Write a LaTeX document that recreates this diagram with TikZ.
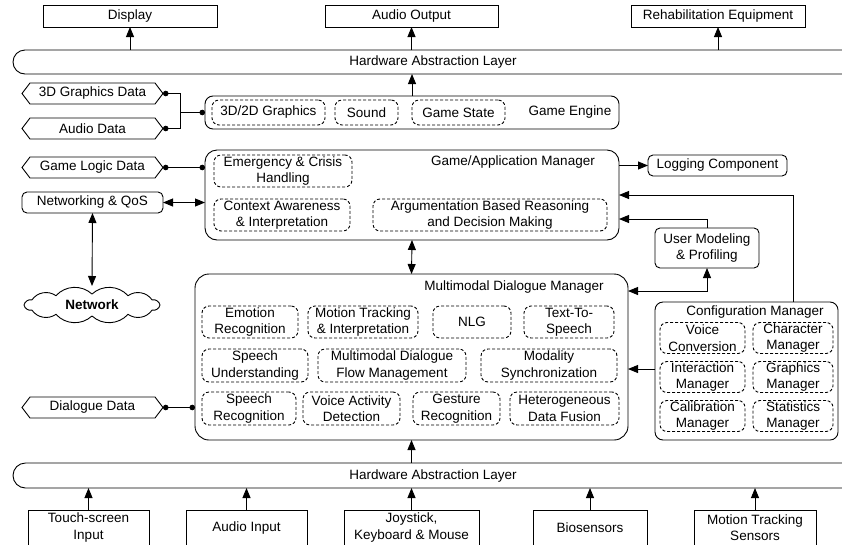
\documentclass[tikz,border=0pt]{standalone}
\usepackage{fontspec}
\setmainfont{Liberation Sans}
\usetikzlibrary{arrows.meta}
\begin{document}
\begin{tikzpicture}[x=1pt,y=-1pt, font=\fontsize{13.5}{16.5}\selectfont,
 every node/.style={inner sep=0pt, outer sep=0pt, align=center},
 ln/.style={line width=0.9pt, draw=black},
 plainbox/.style={ln, rectangle},
 rbox/.style={ln, rounded corners=5pt},
 cont/.style={ln, rounded corners=#1},
 dbox/.style={ln, dash pattern=on 3pt off 2pt, rounded corners=7pt},
 sz/.style 2 args={minimum width=#1pt, minimum height=#2pt},
 arr/.style={ln, -{Triangle[length=10pt,width=8pt]}},
 darr/.style={ln, {Triangle[length=10pt,width=8pt]}-{Triangle[length=10pt,width=8pt]}},
 dots/.style={ln, {Circle[length=5.5pt]}-{Circle[length=5.5pt]}},
 hexline/.style={ln},
]
\useasboundingbox (0,0) rectangle (842,544);
\clip (0,0) rectangle (842,544);

% top output devices
\node[plainbox, sz={174}{22}] (disp) at (130,16) {Display};
\node[plainbox, sz={173}{22}] (aout) at (411.5,16) {Audio Output};
\node[plainbox, sz={174}{22}] (rehab) at (718,16) {Rehabilitation Equipment};

% top HAL
\coordinate (h1t) at (0,50);
\coordinate (h1b) at (0,74);
\draw[ln, rounded corners=12pt] (860,50) -- (13,50) -- (13,74) -- (860,74);
\node (hal1) at (433,62) {Hardware Abstraction Layer};

% game engine
\node[cont=8pt, sz={414}{33}] (ge) at (412,112.5) {};
\node (get) at (570,112.5) {Game Engine};
\node[dbox, sz={113}{25}] (g1) at (268.5,112.5) {3D/2D Graphics};
\node[dbox, sz={63}{25}] (g2) at (366.5,112.5) {Sound};
\node[dbox, sz={93}{25}] (g3) at (458.5,112.5) {Game State};

% data hexagons
\node[sz={141}{21}] (d3d) at (92.5,93.5) {3D Graphics Data};
\node[sz={141}{21}] (dau) at (92.5,128.5) {Audio Data};
\node[sz={141}{21}] (dgl) at (92.5,167.5) {Game Logic Data};
\node[sz={141}{21}] (ddl) at (92.5,407.5) {Dialogue Data};
\foreach \n in {d3d,dau,dgl,ddl}
  \draw[hexline] ([xshift=8pt]\n.north west) -- ([xshift=-8pt]\n.north east) -- (\n.east)
   -- ([xshift=-8pt]\n.south east) -- ([xshift=8pt]\n.south west) -- (\n.west) -- cycle;

% networking
\node[rbox, sz={141}{21}] (net) at (92.5,202.5) {Networking \& QoS};
\node[sz={142}{38}] (cloudn) at (92,305) {\bfseries Network};
\begin{scope}[shift={(cloudn.center)}, x=1pt, y=1pt]
\draw[ln, line join=round] (0:68 and 11)
  \foreach \a in {28,58,90,122,152,180,208,238,270,302,332,360} { to[bend right=45] (\a:68 and 11) };
\end{scope}

% game/application manager
\node[cont=12pt, sz={414}{90}] (gam) at (412,195) {};
\node (gamt) at (513,162) {Game/Application Manager};
\node[dbox, sz={138}{32}] (e1) at (283,171) {Emergency \& Crisis\\Handling};
\node[dbox, sz={136}{32}] (e2) at (282,215) {Context Awareness\\\& Interpretation};
\node[dbox, sz={234}{32}] (e3) at (490,215) {Argumentation Based Reasoning\\and Decision Making};

% multimodal dialogue manager
\node[cont=14pt, sz={433}{166}] (mdm) at (411.5,357) {};
\node (mdmt) at (514,287) {Multimodal Dialogue Manager};
\node[dbox, sz={96}{32}] (m1) at (250,322) {Emotion\\Recognition};
\node[dbox, sz={110}{32}] (m2) at (363,322) {Motion Tracking\\\& Interpretation};
\node[dbox, sz={78}{32}] (m3) at (472,322) {NLG};
\node[dbox, sz={90}{32}] (m4) at (569,322) {Text-To-\\Speech};
\node[dbox, sz={106}{33}] (m5) at (255,365.5) {Speech\\Understanding};
\node[dbox, sz={148}{33}] (m6) at (392,365.5) {Multimodal Dialogue\\Flow Management};
\node[dbox, sz={136}{33}] (m7) at (549,365.5) {Modality\\Synchronization};
\node[dbox, sz={94}{33}] (m8) at (249,408.5) {Speech\\Recognition};
\node[dbox, sz={97}{33}] (m9) at (351.5,408.5) {Voice Activity\\Detection};
\node[dbox, sz={87}{33}] (m10) at (456.5,408.5) {Gesture\\Recognition};
\node[dbox, sz={109}{33}] (m11) at (564.5,408.5) {Heterogeneous\\Data Fusion};

% right side
\node[rbox, sz={139}{21}] (logc) at (717.5,165.5) {Logging Component};
\node[rbox, sz={104}{40}] (ump) at (707,248) {User Modeling\\\& Profiling};
\node[cont=8pt, sz={183}{138}] (cfg) at (746.5,371) {};
\node (cfgt) at (755,312) {Configuration Manager};
\node[dbox, sz={85}{31}] (c11) at (702.5,338) {Voice\\Conversion};
\node[dbox, sz={80}{31}] (c12) at (793,338) {Character\\Manager};
\node[dbox, sz={85}{31}] (c21) at (702.5,377) {Interaction\\Manager};
\node[dbox, sz={80}{31}] (c22) at (793,377) {Graphics\\Manager};
\node[dbox, sz={85}{31}] (c31) at (702.5,416) {Calibration\\Manager};
\node[dbox, sz={80}{31}] (c32) at (793,416) {Statistics\\Manager};

% bottom HAL
\coordinate (h2t) at (0,463);
\coordinate (h2b) at (0,488);
\draw[ln, rounded corners=12.5pt] (860,463) -- (13,463) -- (13,488) -- (860,488);
\node (hal2) at (433,475.5) {Hardware Abstraction Layer};

% bottom input devices
\node[plainbox, sz={121}{35}] (ts) at (88.5,527.5) {Touch-screen\\Input};
\node[plainbox, sz={121}{35}] (ai) at (246.5,527.5) {Audio Input};
\node[plainbox, sz={135}{35}] (joy) at (411.5,527.5) {Joystick,\\Keyboard \& Mouse};
\node[plainbox, sz={114}{35}] (bio) at (590,527.5) {Biosensors};
\node[plainbox, sz={122}{35}] (mts) at (755,527.5) {Motion Tracking\\Sensors};

% connectors: top
\draw[arr] (disp.south |- h1t) -- (disp.south);
\draw[arr] (aout.south |- h1t) -- (aout.south);
\draw[arr] (rehab.south |- h1t) -- (rehab.south);
\draw[arr] (ge.north) -- (ge.north |- h1b);

% data connectors
\coordinate (jn) at (180,112.5);
\draw[ln, {Circle[length=5.5pt]}-] (d3d.east) -| (jn);
\draw[ln, {Circle[length=5.5pt]}-] (dau.east) -| (jn);
\draw[ln, -{Circle[length=5.5pt]}] (jn) -- (ge.west);
\draw[dots] (dgl.east) -- (dgl.east -| gam.west);
\draw[dots] (ddl.east) -- (ddl.east -| mdm.west);
\draw[darr] (net.east) -- (net.east -| gam.west);
\draw[darr] (net.south) -- (cloudn.north);

% central
\draw[darr] (gam.south) -- (mdm.north);
\draw[arr] (mdm.south |- h2t) -- (mdm.south);

% right connectors
\draw[arr] (gam.east |- logc) -- (logc.west);
\coordinate (c1) at (793,195);
\draw[arr] (cfg.north -| c1) -- (c1) -- (c1 -| gam.east);
\coordinate (u1) at (707,219);
\draw[arr] (ump.north) -- (ump.north |- u1) -- (u1 -| gam.east);
\coordinate (u2) at (707,291);
\draw[darr] (ump.south) -- (ump.south |- u2) -- (u2 -| mdm.east);
\coordinate (c2) at (0,369);
\draw[arr] (cfg.west |- c2) -- (mdm.east |- c2);

% connectors: bottom
\draw[arr] (ts.north) -- (ts.north |- h2b);
\draw[arr] (ai.north) -- (ai.north |- h2b);
\draw[arr] (joy.north) -- (joy.north |- h2b);
\draw[arr] (bio.north) -- (bio.north |- h2b);
\draw[arr] (mts.north) -- (mts.north |- h2b);
\end{tikzpicture}
\end{document}
